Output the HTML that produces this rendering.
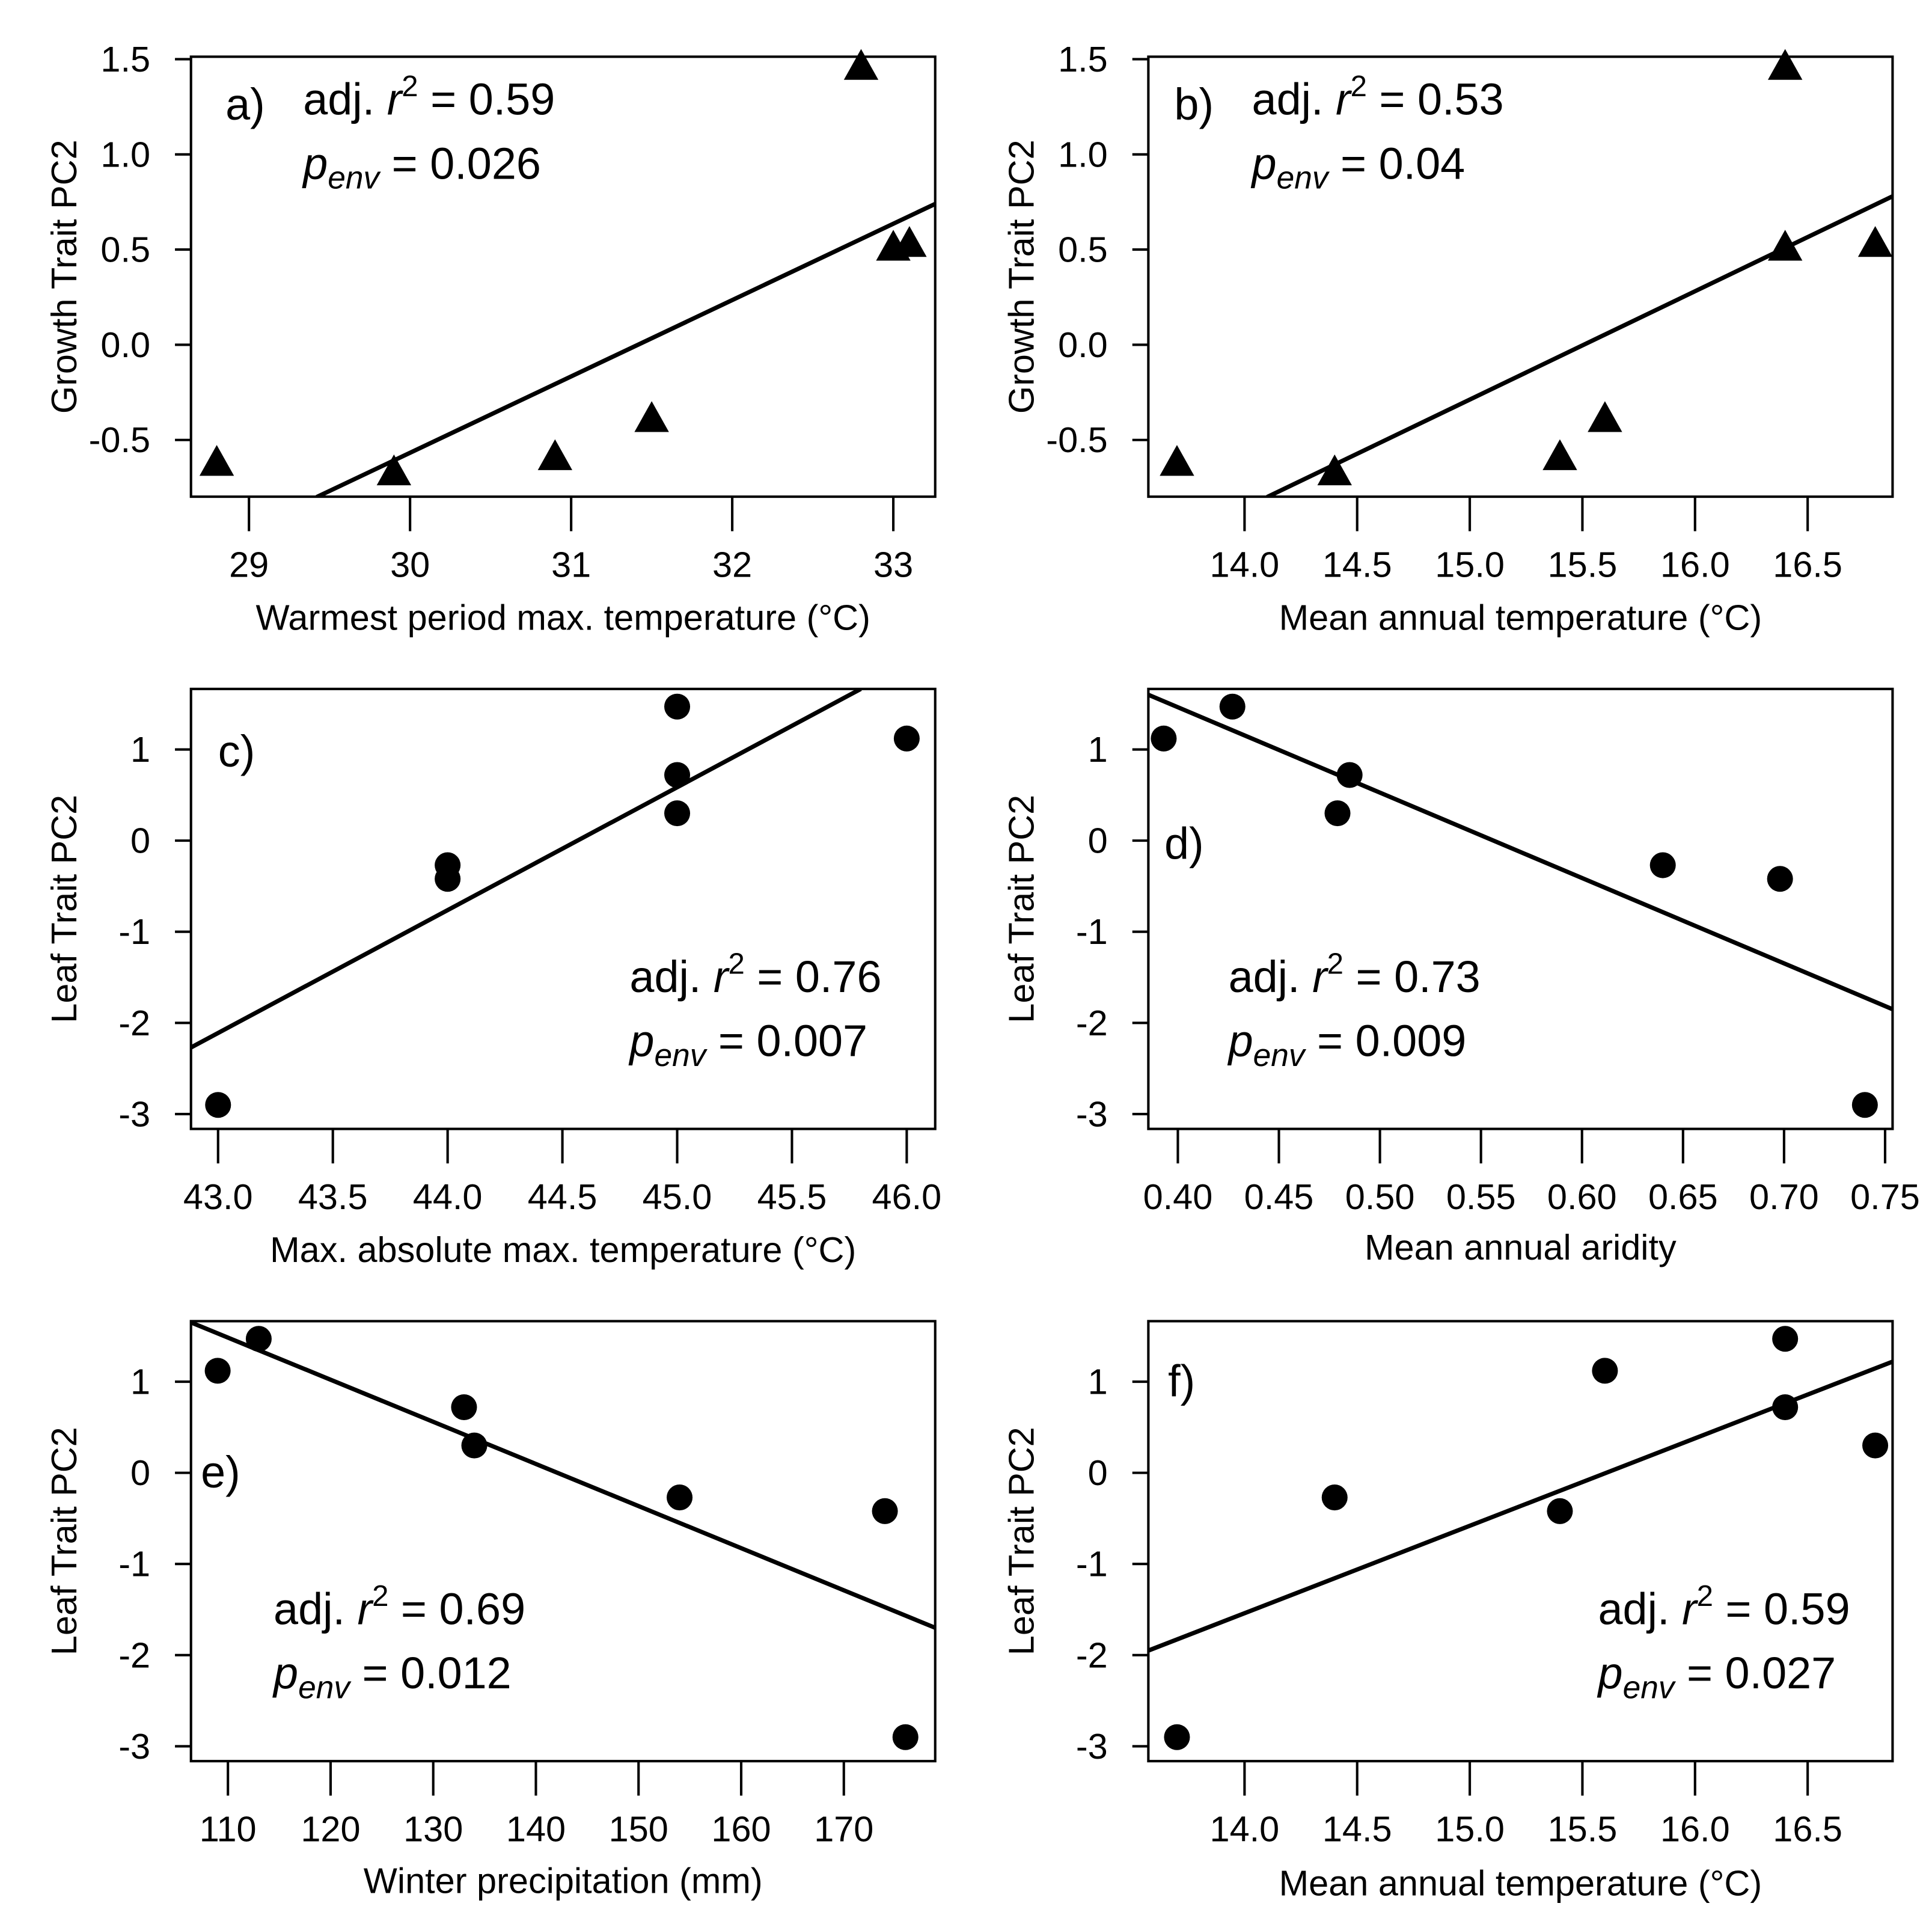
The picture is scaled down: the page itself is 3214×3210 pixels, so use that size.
<!DOCTYPE html>
<html><head><meta charset="utf-8"><style>
html,body{margin:0;padding:0;background:#fff}
svg{display:block}
.tk{font-family:"Liberation Sans",sans-serif;font-size:29px}
.ti{font-family:"Liberation Sans",sans-serif;font-size:29px}
.an{font-family:"Liberation Sans",sans-serif;font-size:36px}
</style></head><body>
<svg id="fig" width="3214" height="3210" viewBox="0 0 1568 1566" xmlns="http://www.w3.org/2000/svg"></svg>
<script>
// Panel data
const aX=[28.8,29.9,30.9,31.5,32.8,33.0,33.1];
const aY=[-0.63,-0.68,-0.6,-0.4,1.45,0.5,0.52];
const bX=[13.7,14.4,15.4,15.6,16.4,16.4,16.8];
const bY=[-0.63,-0.68,-0.6,-0.4,1.45,0.5,0.52];
const cX=[43,44,44,45,45,45,46];
const cY=[-2.9,-0.27,-0.42,1.47,0.72,0.3,1.12];
const dX=[0.393,0.427,0.485,0.479,0.64,0.698,0.74];
const dY=[1.12,1.47,0.72,0.3,-0.27,-0.42,-2.9];
const eX=[109,113,133,134,154,174,176];
const eY=[1.12,1.47,0.72,0.3,-0.27,-0.42,-2.9];
const fX=[13.7,14.4,15.4,15.6,16.4,16.4,16.8];
const fY=[-2.9,-0.27,-0.42,1.12,1.47,0.72,0.3];
// Regression lines: [x0, y0, x1, y1]
const aLine=[29.42,-0.8,33.26,0.74];
const bLine=[14.1,-0.8,16.877,0.78];
const cLine=[42.882,-2.27,45.8,1.664];
const dLine=[0.3854,1.6,0.7537,-1.85];
const eLine=[106.4,1.65,178.9,-1.7];
const fLine=[13.573,-1.95,16.877,1.22];
// Tick labels
const aXT=["29","30","31","32","33"];
const bXT=["14.0","14.5","15.0","15.5","16.0","16.5"];
const cXT=["43.0","43.5","44.0","44.5","45.0","45.5","46.0"];
const dXT=["0.40","0.45","0.50","0.55","0.60","0.65","0.70","0.75"];
const eXT=["110","120","130","140","150","160","170"];
const gYT=["-0.5","0.0","0.5","1.0","1.5"];
const lYT=["-3","-2","-1","0","1"];

const NS="http://www.w3.org/2000/svg";
const svg=document.getElementById('fig');
function el(t,a,p){const e=document.createElementNS(NS,t);for(const k in a)e.setAttribute(k,a[k]);(p||svg).appendChild(e);return e;}

const panels=[
 {id:'a',X:aX,Y:aY,L:aLine,xt:aXT,yt:gYT,px:155,py:46,xr:[28.64,33.26],yr:[-0.798,1.513],tri:true,xl:"Warmest period max. temperature (°C)",yl:"Growth Trait PC2",lab:[183,97],ann:[246,93],r:"0.59",p:"0.026",xlY:511},
 {id:'b',X:bX,Y:bY,L:bLine,xt:bXT,yt:gYT,px:932,py:46,xr:[13.573,16.877],yr:[-0.798,1.513],tri:true,xl:"Mean annual temperature (°C)",yl:"Growth Trait PC2",lab:[953,97],ann:[1016,93],r:"0.53",p:"0.04",xlY:511},
 {id:'c',X:cX,Y:cY,L:cLine,xt:cXT,yt:lYT,px:155,py:559,xr:[42.882,46.124],yr:[-3.163,1.664],tri:false,xl:"Max. absolute max. temperature (°C)",yl:"Leaf Trait PC2",lab:[177,622],ann:[511,805],r:"0.76",p:"0.007",xlY:1024},
 {id:'d',X:dX,Y:dY,L:dLine,xt:dXT,yt:lYT,px:932,py:559,xr:[0.3854,0.7537],yr:[-3.163,1.664],tri:false,xl:"Mean annual aridity",yl:"Leaf Trait PC2",lab:[945,697],ann:[997,805],r:"0.73",p:"0.009",xlY:1022},
 {id:'e',X:eX,Y:eY,L:eLine,xt:eXT,yt:lYT,px:155,py:1072,xr:[106.4,178.9],yr:[-3.163,1.664],tri:false,xl:"Winter precipitation (mm)",yl:"Leaf Trait PC2",lab:[163,1207],ann:[222,1318],r:"0.69",p:"0.012",xlY:1536},
 {id:'f',X:fX,Y:fY,L:fLine,xt:bXT,yt:lYT,px:932,py:1072,xr:[13.573,16.877],yr:[-3.163,1.664],tri:false,xl:"Mean annual temperature (°C)",yl:"Leaf Trait PC2",lab:[948,1133],ann:[1297,1318],r:"0.59",p:"0.027",xlY:1538}
];
const W=604,H=357;
panels.forEach(P=>{
 const g=el('g',{});
 
 
 const sx=v=>P.px+(v-P.xr[0])/(P.xr[1]-P.xr[0])*W;
 const sy=v=>P.py+H-(v-P.yr[0])/(P.yr[1]-P.yr[0])*H;
 const cp='clip'+P.id;
 const cl=el('clipPath',{id:cp},g); el('rect',{x:P.px,y:P.py,width:W,height:H},cl);
 const box=el('rect',{x:P.px,y:P.py,width:W,height:H,fill:'none',stroke:'#000','stroke-width':2},g);
 
 
 P.xt.forEach(t=>{const x=sx(parseFloat(t));
  const tk=el('line',{x1:x,x2:x,y1:P.py+H,y2:P.py+H+28,stroke:'#000','stroke-width':2},g);
  
  
  const tx=el('text',{x:x,y:P.py+H+65,'text-anchor':'middle',class:'tk'},g);tx.textContent=t;
  
  
 });
 P.yt.forEach(t=>{const y=sy(parseFloat(t));
  const tk=el('line',{x1:P.px-13,x2:P.px,y1:y,y2:y,stroke:'#000','stroke-width':2},g);
  
  
  const tx=el('text',{x:P.px-33,y:y+10,'text-anchor':'end',class:'tk'},g);tx.textContent=t;
  
  
 });
 const xl=el('text',{x:P.px+W/2,y:P.xlY,'text-anchor':'middle',class:'ti'},g);xl.textContent=P.xl;
 
 
 const yc=P.py+H/2;
 const yl=el('text',{x:0,y:0,'text-anchor':'middle',class:'ti',transform:`translate(${P.px-93},${yc}) rotate(-90)`},g);yl.textContent=P.yl;
 
 
 const ln=el('line',{x1:sx(P.L[0]),y1:sy(P.L[1]),x2:sx(P.L[2]),y2:sy(P.L[3]),stroke:'#000','stroke-width':3.5,'clip-path':`url(#${cp})`},g);
 
 
 P.X.forEach((xv,i)=>{const x=sx(xv),y=sy(P.Y[i]);let m;
  if(P.tri){m=el('polygon',{points:`${x},${y-16} ${x-14},${y+9} ${x+14},${y+9}`,fill:'#000'},g);}
  else{m=el('circle',{cx:x,cy:y,r:10.5,fill:'#000'},g);}
  
  
 });
 const lb=el('text',{x:P.lab[0],y:P.lab[1],class:'an','font-size':40},g);lb.textContent=P.id+')';
 
 
 const r=el('text',{x:P.ann[0],y:P.ann[1],class:'an'},g);
 r.innerHTML=`adj. <tspan font-style="italic">r</tspan><tspan dy="-15" font-size="24">2</tspan><tspan dy="15"> = ${P.r}</tspan>`;
 
 
 const p=el('text',{x:P.ann[0],y:P.ann[1]+52,class:'an'},g);
 p.innerHTML=`<tspan font-style="italic">p</tspan><tspan dy="8" font-size="26" font-style="italic">env</tspan><tspan dy="-8"> = ${P.p}</tspan>`;
 
 
});
</script>
</body></html>
